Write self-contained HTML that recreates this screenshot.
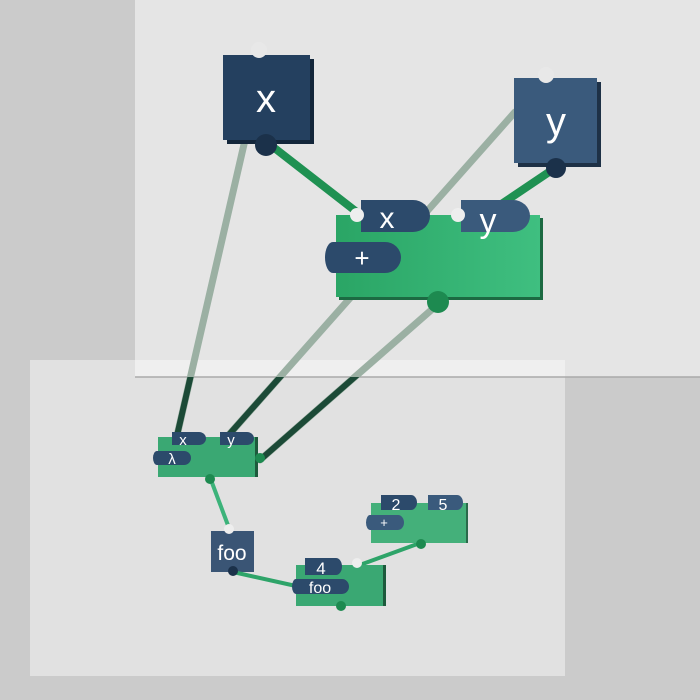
<!DOCTYPE html>
<html><head><style>
html,body{margin:0;padding:0;width:700px;height:700px;overflow:hidden;background:#cbcbcb}
svg{display:block}
text{font-family:"Liberation Sans","DejaVu Sans",sans-serif;fill:#fff}
</style></head><body>
<svg width="700" height="700" viewBox="0 0 700 700" xmlns="http://www.w3.org/2000/svg">
<defs>
<linearGradient id="g" x1="0" x2="1"><stop offset="0" stop-color="#2aa565"/><stop offset="1" stop-color="#3fbf80"/></linearGradient>
<clipPath id="low"><rect x="0" y="377" width="700" height="323"/></clipPath>
</defs>
<rect width="700" height="700" fill="#cbcbcb"/>
<rect x="135" y="0" width="565" height="377" fill="#e5e5e5"/>
<rect x="30" y="360" width="535" height="316" fill="#e8e8e8" opacity="0.75"/>
<rect x="135" y="360" width="430" height="17" fill="#efefef"/>
<line x1="135" y1="377" x2="700" y2="377" stroke="#aaa" stroke-width="1.5"/>

<!-- grey long lines -->
<g stroke="#9bb0a3" stroke-width="7" stroke-linecap="round">
<line x1="245" y1="140" x2="176" y2="440"/>
<line x1="515" y1="112" x2="226" y2="438"/>
<line x1="437" y1="305" x2="260" y2="460"/>
</g>
<g stroke="#1c4a37" stroke-width="6" stroke-linecap="round" clip-path="url(#low)">
<line x1="245" y1="140" x2="176" y2="440"/>
<line x1="515" y1="112" x2="226" y2="438"/>
<line x1="437" y1="305" x2="260" y2="460"/>
</g>

<!-- x node -->
<rect x="227" y="59" width="87" height="85" fill="#13263a"/>
<rect x="223" y="55" width="87" height="85" fill="#24405f"/>
<text x="266" y="112" font-size="40" text-anchor="middle">x</text>
<circle cx="259" cy="50" r="8" fill="#e8e8e8"/>
<!-- y node -->
<rect x="518" y="82" width="83" height="85" fill="#1e3146"/>
<rect x="514" y="78" width="83" height="85" fill="#3a5a7c"/>
<text x="556" y="135" font-size="40" text-anchor="middle">y</text>
<circle cx="546" cy="75" r="8" fill="#e8e8e8"/>

<!-- green connectors top -->
<g stroke="#1f9152" stroke-width="8" stroke-linecap="round">
<line x1="268" y1="143" x2="358" y2="213"/>
<line x1="555" y1="168" x2="500" y2="205"/>
</g>
<circle cx="266" cy="145" r="11" fill="#1b314a"/>
<circle cx="556" cy="168" r="10" fill="#1b314a"/>

<!-- plus block -->
<rect x="339" y="218" width="204" height="82" fill="#1c6a42"/>
<rect x="336" y="215" width="204" height="82" fill="url(#g)"/>
<path d="M361,200 h52 a17,16 0 0 1 0,32 h-52z" fill="#2c4a6b"/>
<path d="M461,200 h52 a17,16 0 0 1 0,32 h-52z" fill="#3a5a7c"/>
<path d="M333,242 h52 a16,15.5 0 0 1 0,31 h-52 a8,15.5 0 0 1 0,-31z" fill="#2c4a6b"/>
<text x="387" y="228" font-size="30" text-anchor="middle">x</text>
<text x="488" y="232" font-size="34" text-anchor="middle">y</text>
<text x="362" y="267" font-size="26" text-anchor="middle">+</text>
<circle cx="357" cy="215" r="7" fill="#eee"/>
<circle cx="458" cy="215" r="7" fill="#eee"/>
<circle cx="438" cy="302" r="11" fill="#1d8a50"/>

<!-- lambda block -->
<rect x="158" y="437" width="99" height="40" fill="#3aa873"/>
<rect x="255" y="437" width="3" height="40" fill="#1d5a3c"/>
<path d="M172,432 h27 a7,6.5 0 0 1 0,13 h-27z" fill="#2c4a6b"/>
<path d="M220,432 h27 a7,6.5 0 0 1 0,13 h-27z" fill="#2c4a6b"/>
<path d="M157,451 h27 a7,7 0 0 1 0,14 h-27 a4,7 0 0 1 0,-14z" fill="#2c4a6b"/>
<text x="183" y="445" font-size="15" text-anchor="middle">x</text>
<text x="231" y="445" font-size="15" text-anchor="middle">y</text>
<text x="172" y="464" font-size="15" text-anchor="middle">λ</text>
<circle cx="260" cy="458" r="5" fill="#1d8a50"/>
<!-- lambda to foo -->
<line x1="211" y1="480" x2="229" y2="528" stroke="#3cb37a" stroke-width="4"/>
<circle cx="210" cy="479" r="5" fill="#1d8a50"/>
<!-- foo node -->
<rect x="211" y="531" width="43" height="41" fill="#3a5575"/>
<text x="232" y="560" font-size="21" text-anchor="middle">foo</text>
<circle cx="229" cy="529" r="5" fill="#eee"/>
<!-- foo to 4 block -->
<g stroke="#2ea469" stroke-width="4">
<line x1="233" y1="572" x2="296" y2="586"/>
<line x1="357" y1="566" x2="420" y2="543"/>
</g>
<circle cx="233" cy="571" r="5" fill="#1b314a"/>
<!-- 4/foo block -->
<rect x="296" y="565" width="89" height="41" fill="#3aa873"/>
<rect x="383" y="565" width="3" height="41" fill="#1d5a3c"/>
<path d="M305,558 h31 a6,8.5 0 0 1 0,17 h-31z" fill="#2c4a6b"/>
<path d="M296,579 h46 a7,7.5 0 0 1 0,15 h-46 a4,7.5 0 0 1 0,-15z" fill="#2c4a6b"/>
<text x="321" y="574" font-size="17" text-anchor="middle">4</text>
<text x="320" y="593" font-size="16" text-anchor="middle">foo</text>
<circle cx="357" cy="563" r="5" fill="#eee"/>
<circle cx="341" cy="606" r="5" fill="#1d8a50"/>
<!-- 2/5 block -->
<rect x="371" y="503" width="96" height="40" fill="#44b07a"/>
<rect x="466" y="503" width="2" height="40" fill="#2a6a4a"/>
<path d="M381,495 h30 a6,7.5 0 0 1 0,15 h-30z" fill="#2c4a6b"/>
<path d="M428,495 h29 a6,7.5 0 0 1 0,15 h-29z" fill="#3a5a7c"/>
<path d="M370,515 h28 a6,7.5 0 0 1 0,15 h-28 a4,7.5 0 0 1 0,-15z" fill="#3a5a7c"/>
<text x="396" y="510" font-size="16" text-anchor="middle">2</text>
<text x="443" y="510" font-size="16" text-anchor="middle">5</text>
<text x="384" y="527" font-size="13" text-anchor="middle">+</text>
<circle cx="421" cy="544" r="5" fill="#1d8a50"/>
</svg>
</body></html>
